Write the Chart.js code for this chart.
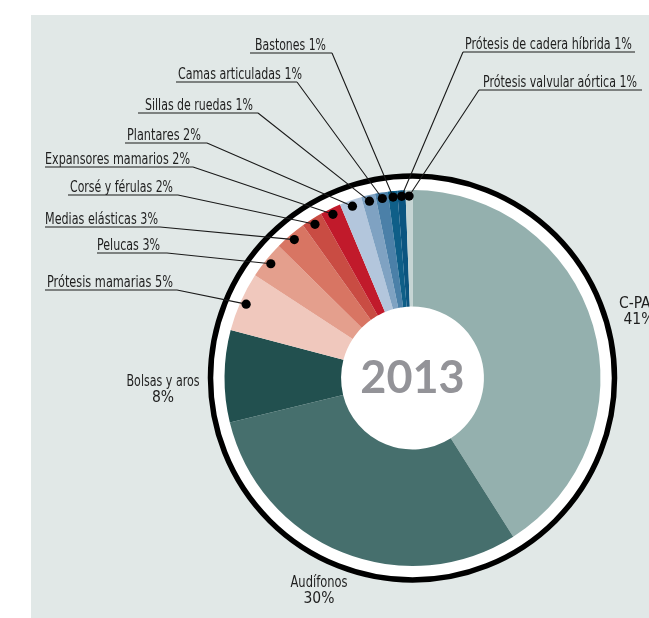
<!DOCTYPE html>
<html><head><meta charset="utf-8">
<script src="https://cdn.jsdelivr.net/npm/chart.js@4/dist/chart.umd.min.js"></script>
<style>html,body{margin:0;padding:0;background:#fff;}canvas{display:block}</style>
</head><body>
<canvas id="c" width="649" height="618"></canvas>
<script>
// ---- data ----
const categories = ['C-PAP','Audífonos','Bolsas y aros','Prótesis mamarias','Pelucas','Medias elásticas','Corsé y férulas','Expansores mamarios','Plantares','Sillas de ruedas','Camas articuladas','Bastones','Prótesis de cadera híbrida','Prótesis valvular aórtica'];
const shares = [41, 30.2, 7.9, 5.1, 3.2, 2.7, 1.8, 1.8, 1.9, 1.2, 1.1, 0.8, 0.7, 0.6];
const printedPct = [41, 30, 8, 5, 3, 3, 2, 2, 2, 1, 1, 1, 1, 1];
const centerLabel = '2013';

// ---- styles / layout ----
const colors = ['#94b0ae','#466f6d','#22504f','#f0c8bd','#e49f8d','#d87563','#c94c43','#c11a2b','#b3c6dc','#7fa2c2','#4b80a8','#0f5f88','#0b5580','#c6d5d4'];
const FONT = '"Liberation Sans Narrow","Arial Narrow","DejaVu Sans Condensed",sans-serif';
// callouts for the small slices (index -> text/underline placement, target width)
const callouts = {
  3:{tx:47, uy:290, ux0:45, ux1:177, side:'L', w:126},
  4:{tx:97, uy:253, ux0:97, ux1:167, side:'L', w:63},
  5:{tx:45, uy:227, ux0:45, ux1:160, side:'L', w:113},
  6:{tx:70, uy:195, ux0:68, ux1:178, side:'L', w:103},
  7:{tx:45, uy:167, ux0:45, ux1:193, side:'L', w:145},
  8:{tx:127,uy:143, ux0:125,ux1:207, side:'L', w:74},
  9:{tx:145,uy:113, ux0:138,ux1:258, side:'L', w:108},
  10:{tx:178,uy:82, ux0:176,ux1:297, side:'L', w:124},
  11:{tx:255,uy:53, ux0:250,ux1:332, side:'L', w:71},
  12:{tx:465,uy:52, ux0:463,ux1:635, side:'R', w:167},
  13:{tx:483,uy:90, ux0:479,ux1:642, side:'R', w:154}
};
// big slice labels (two lines, centered)
const bigLabels = {
  0:{x:639, y:308, w:44},
  1:{x:319, y:587, w:57},
  2:{x:163, y:386, w:73}
};

const deco = {
  id:'deco',
  beforeDraw(chart){
    const ctx = chart.ctx;
    ctx.save();
    ctx.fillStyle = '#fff';
    ctx.fillRect(0,0,chart.width,chart.height);
    ctx.fillStyle = '#e1e8e7';
    ctx.fillRect(31,15,chart.width-31,chart.height-15);
    ctx.restore();
  },
  beforeDatasetsDraw(chart){
    const arc = chart.getDatasetMeta(0).data[0];
    const ctx = chart.ctx, cx = arc.x, cy = arc.y, R = arc.outerRadius;
    ctx.save();
    ctx.fillStyle = '#fff';
    ctx.beginPath(); ctx.arc(cx,cy,R+13,0,Math.PI*2); ctx.fill();
    ctx.strokeStyle = '#000'; ctx.lineWidth = 5.5;
    ctx.beginPath(); ctx.arc(cx,cy,R+14,0,Math.PI*2); ctx.stroke();
    ctx.restore();
  },
  afterDatasetsDraw(chart){
    const meta = chart.getDatasetMeta(0);
    const ctx = chart.ctx;
    const a0 = meta.data[0];
    const cx = a0.x, cy = a0.y;
    ctx.save();
    // callouts
    meta.data.forEach((arc,i)=>{
      const c = callouts[i];
      if(!c) return;
      const mid = (arc.startAngle+arc.endAngle)/2;
      const r = arc.outerRadius - 6;
      const dx = cx + Math.cos(mid)*r, dy = cy + Math.sin(mid)*r;
      const ex = c.side==='L' ? c.ux1 : c.ux0;
      ctx.strokeStyle = '#1a1a1a'; ctx.lineWidth = 1.1;
      ctx.beginPath();
      ctx.moveTo(c.ux0, c.uy); ctx.lineTo(c.ux1, c.uy);
      ctx.moveTo(ex, c.uy); ctx.lineTo(dx, dy);
      ctx.stroke();
      ctx.fillStyle = '#000';
      ctx.beginPath(); ctx.arc(dx,dy,4.6,0,Math.PI*2); ctx.fill();
      ctx.fillStyle = '#1e1e1e';
      ctx.font = '15.5px ' + FONT;
      ctx.textAlign = 'left'; ctx.textBaseline = 'alphabetic';
      ctx.fillText(categories[i] + ' ' + printedPct[i] + '%', c.tx, c.uy - 3, c.w);
    });
    // big labels
    Object.keys(bigLabels).forEach(k=>{
      const b = bigLabels[k];
      ctx.fillStyle = '#1e1e1e';
      ctx.font = '15.5px ' + FONT;
      ctx.textAlign = 'center'; ctx.textBaseline = 'alphabetic';
      ctx.fillText(categories[k], b.x, b.y, b.w);
      ctx.fillText(printedPct[k] + '%', b.x, b.y + 16);
    });
    // center text
    ctx.fillStyle = '#939398';
    ctx.font = 'bold 45px Lato, "Open Sans", sans-serif';
    ctx.textAlign = 'center'; ctx.textBaseline = 'alphabetic';
    ctx.fillText(centerLabel, cx, cy + 15);
    ctx.restore();
  }
};

new Chart(document.getElementById('c'), {
  type:'doughnut',
  data:{ labels:categories, datasets:[{ data:shares, backgroundColor:colors, borderWidth:0, hoverOffset:0 }] },
  options:{
    responsive:false, animation:false,
    cutout:'38%',
    layout:{ padding:{ left:224, right:48, top:190, bottom:52 } },
    plugins:{ legend:{display:false}, tooltip:{enabled:false} },
    events:[]
  },
  plugins:[deco]
});
</script>
</body></html>
